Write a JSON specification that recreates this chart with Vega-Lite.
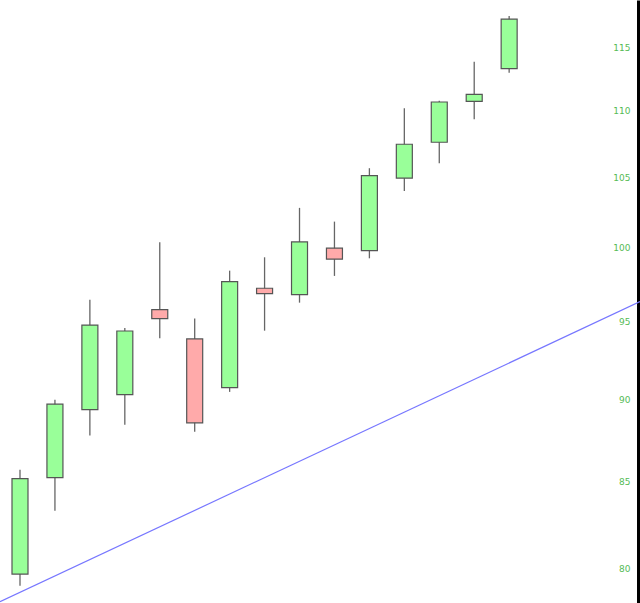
{
  "$schema": "https://vega.github.io/schema/vega-lite/v6.json",
  "width": 640,
  "height": 603,
  "padding": 0,
  "autosize": {"type": "none"},
  "background": "white",
  "config": {"view": {"stroke": null}},
  "layer": [
    {
      "data": {
        "values": [
          {"t": 1, "open": 79.67, "high": 85.67, "low": 79.02, "close": 85.15},
          {"t": 2, "open": 85.21, "high": 89.95, "low": 83.26, "close": 89.68},
          {"t": 3, "open": 89.34, "high": 96.44, "low": 87.74, "close": 94.76},
          {"t": 4, "open": 90.28, "high": 94.56, "low": 88.40, "close": 94.37},
          {"t": 5, "open": 95.79, "high": 100.39, "low": 93.90, "close": 95.19},
          {"t": 6, "open": 93.85, "high": 95.19, "low": 87.97, "close": 88.52},
          {"t": 7, "open": 90.72, "high": 98.42, "low": 90.45, "close": 97.67},
          {"t": 8, "open": 97.22, "high": 99.34, "low": 94.39, "close": 96.86},
          {"t": 9, "open": 96.79, "high": 102.82, "low": 96.25, "close": 100.41},
          {"t": 10, "open": 99.97, "high": 101.84, "low": 98.06, "close": 99.21},
          {"t": 11, "open": 99.80, "high": 105.70, "low": 99.27, "close": 105.16},
          {"t": 12, "open": 104.97, "high": 110.21, "low": 104.04, "close": 107.48},
          {"t": 13, "open": 107.63, "high": 110.79, "low": 106.07, "close": 110.69},
          {"t": 14, "open": 110.74, "high": 113.84, "low": 109.36, "close": 111.28},
          {"t": 15, "open": 113.29, "high": 117.53, "low": 112.97, "close": 117.26}
        ]
      },
      "encoding": {
        "x": {"field": "t", "type": "quantitative", "scale": {"domain": [0.4276, 18.745], "nice": false, "zero": false, "padding": 0}, "axis": null}
      },
      "layer": [
        {
          "mark": {"type": "rule", "color": "#666666", "strokeWidth": 1.3},
          "encoding": {
            "y": {"field": "low", "type": "quantitative"},
            "y2": {"field": "high"}
          }
        },
        {
          "mark": {"type": "bar", "width": 16, "stroke": "#555555", "strokeWidth": 1.2},
          "encoding": {
            "y": {"field": "open", "type": "quantitative"},
            "y2": {"field": "close"},
            "fill": {
              "condition": {"test": "datum.open < datum.close", "value": "#99ff99"},
              "value": "#ffaaaa"
            }
          }
        }
      ]
    },
    {
      "data": {"values": [{"t": 0.4276, "v": 78.15}, {"t": 18.745, "v": 96.32}]},
      "mark": {"type": "line", "color": "#7777ff", "strokeWidth": 1.2, "clip": true},
      "encoding": {
        "x": {"field": "t", "type": "quantitative"},
        "y": {"field": "v", "type": "quantitative"}
      }
    }
  ],
  "resolve": {"scale": {"x": "shared", "y": "shared"}},
  "encoding": {
    "y": {
      "type": "quantitative",
      "scale": {"type": "log", "domain": [78.08, 118.84], "nice": false, "zero": false, "padding": 0},
      "axis": {
        "orient": "right",
        "title": null,
        "values": [80, 85, 90, 95, 100, 105, 110, 115],
        "grid": false,
        "ticks": false,
        "domain": true,
        "domainColor": "#000000",
        "domainWidth": 3,
        "offset": -2,
        "labelAlign": "right",
        "labelPadding": -8,
        "labelColor": "#55bb55",
        "labelFont": "DejaVu Sans",
        "labelFontSize": 9,
        "labelBaseline": "middle"
      }
    }
  }
}
